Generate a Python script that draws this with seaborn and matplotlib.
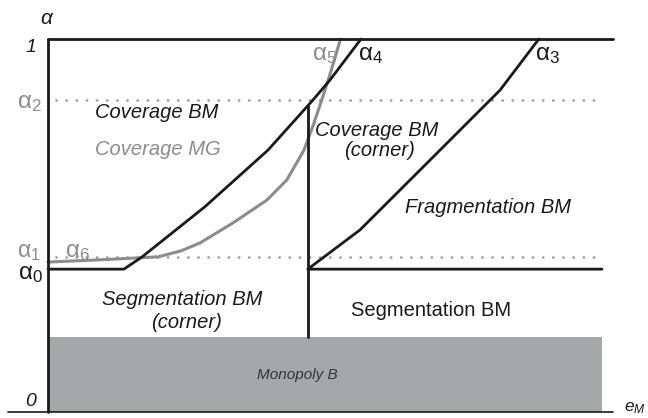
import numpy as np
import pandas as pd
import matplotlib
matplotlib.use("Agg")
import matplotlib.pyplot as plt
import seaborn as sns

# ---------------- data (e_M on x, alpha on y) ----------------
alpha0 = 0.383          # lower threshold
alpha1 = 0.416          # dotted threshold
alpha2 = 0.836          # dotted threshold
monopoly_top = 0.201    # top of Monopoly B region
e_corner = 0.469        # vertical boundary
e_max = 1.0

# alpha4 boundary (black), starting with the flat alpha0 segment
alpha4_e = [0.0, 0.137, 0.170, 0.283, 0.397, 0.478, 0.509, 0.565]
alpha4_a = [0.383, 0.383, 0.416, 0.550, 0.702, 0.836, 0.890, 1.0]

# alpha5 boundary (grey, MG)
alpha5_e = [0.0, 0.094, 0.199, 0.240, 0.274, 0.334, 0.395, 0.431, 0.462, 0.479, 0.494, 0.508, 0.528]
alpha5_a = [0.402, 0.408, 0.416, 0.432, 0.453, 0.507, 0.568, 0.622, 0.702, 0.770, 0.836, 0.900, 1.0]

# alpha3 boundary (black) with horizontal alpha0 segment
alpha3_e = [1.0, 0.469, 0.563, 0.690, 0.816, 0.886]
alpha3_a = [0.383, 0.383, 0.488, 0.676, 0.863, 1.0]

# ---------------- style ----------------
sns.set_theme(style="white")
plt.rcParams["font.family"] = ["Liberation Sans", "DejaVu Sans"]
plt.rcParams["mathtext.fontset"] = "custom"
plt.rcParams["mathtext.rm"] = "Liberation Sans"
plt.rcParams["mathtext.it"] = "Liberation Sans:italic"
plt.rcParams["mathtext.bf"] = "Liberation Sans:bold"

BLACK = "#1a1a1a"
GREY = "#8c8c8c"
FILL = "#a6a7a9"
DOT = "#a0a0a0"

W, H = 648, 418
X0, XE = 48, 602      # pixel x of e=0, e=1
Y0, YA = 412, 39      # pixel y of alpha=0, alpha=1


def ex(px):
    return (px - X0) / (XE - X0)


def ay(py):
    return (Y0 - py) / (Y0 - YA)


fig = plt.figure(figsize=(W / 100, H / 100), dpi=100)
ax = fig.add_axes([0, 0, 1, 1])
ax.set_xlim(ex(0), ex(W))
ax.set_ylim(ay(H), ay(0))
ax.axis("off")

# Monopoly region
ax.fill_between([0, e_max], 0, monopoly_top, color=FILL, lw=0, zorder=1)

# dotted thresholds
for lev in (alpha1, alpha2):
    ax.plot([ex(56), e_max - 0.003], [lev, lev], color=DOT, lw=2.0,
            linestyle=(0, (0.05, 3.6)), dash_capstyle="round", zorder=2)

# frame lines
ax.plot([0, ex(613)], [1, 1], color=BLACK, lw=2.0, zorder=4)
ax.plot([0, 0], [0, 1], color=BLACK, lw=2.0, zorder=4)
ax.plot([ex(8), ex(613)], [0, 0], color=BLACK, lw=1.2, zorder=4)

# curves via seaborn
df5 = pd.DataFrame({"e": alpha5_e, "a": alpha5_a})
sns.lineplot(data=df5, x="e", y="a", sort=False, color=GREY, lw=2.2, ax=ax, zorder=3)
df4 = pd.DataFrame({"e": alpha4_e, "a": alpha4_a})
sns.lineplot(data=df4, x="e", y="a", sort=False, color=BLACK, lw=2.0, ax=ax, zorder=4)
df3 = pd.DataFrame({"e": alpha3_e, "a": alpha3_a})
sns.lineplot(data=df3, x="e", y="a", sort=False, color=BLACK, lw=2.0, ax=ax, zorder=4)

# vertical boundary up to alpha4
a_top = float(np.interp(e_corner, alpha4_e, alpha4_a))
ax.plot([e_corner, e_corner], [monopoly_top, a_top], color=BLACK, lw=2.0, zorder=4)

# ---------------- text ----------------
FS = 14.5
def T(px, py, s, **kw):
    ax.text(ex(px), ay(py), s, **kw)

T(95, 118, "Coverage BM", fontsize=FS, style="italic", color=BLACK, va="baseline", ha="left")
T(95, 155, "Coverage MG", fontsize=FS, style="italic", color=GREY, va="baseline", ha="left")
T(315, 136, "Coverage BM", fontsize=FS, style="italic", color=BLACK, va="baseline", ha="left")
T(379, 156, "(corner)", fontsize=FS, style="italic", color=BLACK, va="baseline", ha="center")
T(405, 213, "Fragmentation BM", fontsize=FS, style="italic", color=BLACK, va="baseline", ha="left")
T(102, 305, "Segmentation BM", fontsize=FS, style="italic", color=BLACK, va="baseline", ha="left")
T(187, 328, "(corner)", fontsize=FS, style="italic", color=BLACK, va="baseline", ha="center")
T(351, 316, "Segmentation BM", fontsize=FS, color=BLACK, va="baseline", ha="left")
T(297, 375, "Monopoly B", fontsize=11, style="italic", color="#333333", va="center", ha="center")

# axis labels
T(47, 19, r"$\alpha$", fontsize=15, color=BLACK, va="center", ha="center")
T(31, 47, "1", fontsize=14, style="italic", color=BLACK, va="center", ha="center")
T(31, 402, "0", fontsize=14, style="italic", color=BLACK, va="center", ha="center")
T(624, 400, r"$e_M$", fontsize=12.5, color=BLACK, va="top", ha="left")

# alpha threshold labels
AFS = 17.5
T(42, 108, r"$\mathrm{\alpha_2}$", fontsize=AFS, color=GREY, va="baseline", ha="right")
T(41, 257, r"$\mathrm{\alpha_1}$", fontsize=16.5, color=GREY, va="baseline", ha="right")
T(43, 279, r"$\mathrm{\alpha_0}$", fontsize=AFS, color=BLACK, va="baseline", ha="right")
T(65, 257, r"$\mathrm{\alpha_6}$", fontsize=AFS, color=GREY, va="baseline", ha="left")
T(312, 60, r"$\mathrm{\alpha_5}$", fontsize=AFS, color=GREY, va="baseline", ha="left")
T(358, 60, r"$\mathrm{\alpha_4}$", fontsize=AFS, color=BLACK, va="baseline", ha="left")
T(535, 60, r"$\mathrm{\alpha_3}$", fontsize=AFS, color=BLACK, va="baseline", ha="left")

fig.savefig("out.png", dpi=100)
